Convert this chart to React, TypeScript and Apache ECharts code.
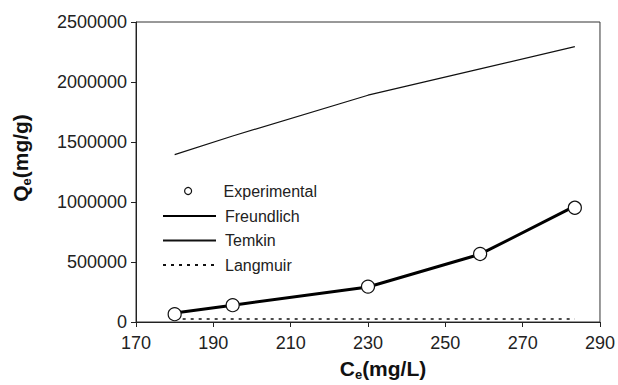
import React, { useEffect, useRef } from "react";
import * as echarts from "echarts";

const ceValues = [180, 195, 230, 259, 283.5];
const experimental = [65000, 140000, 295000, 567000, 952000];
const freundlich = [75000, 140000, 292000, 565000, 965000];
const temkin = [1395000, 1550000, 1890000, 2110000, 2295000];
const langmuir = [25000, 25000, 25000, 25000, 25000];
const xTicks = { min: 170, max: 290, interval: 20 };
const yTicks = { min: 0, max: 2500000, interval: 500000 };

const FONT = "'Liberation Sans', Arial, sans-serif";
const pairs = (ys: number[]) => ceValues.map((x, i) => [x, ys[i]]);

export default function App() {
  const ref = useRef<HTMLDivElement>(null);
  useEffect(() => {
    if (!ref.current) return;
    const chart = echarts.init(ref.current, null, { renderer: "svg" });
    const titleRich = {
      a: { fontSize: 21, fontWeight: "bold", fontFamily: FONT, fill: "#111", lineHeight: 26 },
      b: { fontSize: 13, fontWeight: "bold", fontFamily: FONT, fill: "#111", lineHeight: 8, verticalAlign: "bottom" },
    };
    chart.setOption({
      animation: false,
      backgroundColor: "#fff",
      textStyle: { fontFamily: FONT },
      grid: {
        left: 136, top: 22, right: 17, bottom: 63,
        show: true, borderColor: "#333", borderWidth: 1, backgroundColor: "transparent",
      },
      xAxis: {
        type: "value", min: xTicks.min, max: xTicks.max, interval: xTicks.interval,
        axisLine: { show: true, lineStyle: { color: "#222", width: 1 } },
        axisTick: { show: true, length: 5, lineStyle: { color: "#222" } },
        axisLabel: { color: "#222", fontSize: 18, margin: 12, fontFamily: FONT },
        splitLine: { show: false },
      },
      yAxis: {
        type: "value", min: yTicks.min, max: yTicks.max, interval: yTicks.interval,
        axisLine: { show: true, lineStyle: { color: "#222", width: 1 } },
        axisTick: { show: true, length: 5, lineStyle: { color: "#222" } },
        axisLabel: { color: "#222", fontSize: 18, margin: 9, fontFamily: FONT, formatter: (v: number) => String(v) },
        splitLine: { show: false },
      },
      legend: [
        {
          data: ["Experimental"], orient: "vertical", left: 179, top: 178,
          itemWidth: 53, itemHeight: 7, itemGap: 8,
          itemStyle: { color: "#fff", borderColor: "#111", borderWidth: 1.2, opacity: 1 },
          textStyle: { fontSize: 16, color: "#222", fontFamily: FONT, padding: [0, 0, 0, 4] },
          selectedMode: false,
        },
        {
          data: ["Freundlich", "Temkin", "Langmuir"], orient: "vertical", left: 157, top: 203,
          itemWidth: 53, itemHeight: 16, itemGap: 8.5,
          itemStyle: { opacity: 0 },
          textStyle: { fontSize: 16, color: "#222", fontFamily: FONT, lineHeight: 16, padding: [0, 0, 0, 4] },
          selectedMode: false,
        },
      ],
      series: [
        {
          name: "Experimental", type: "scatter", data: pairs(experimental),
          symbol: "circle", symbolSize: 13, z: 5,
          itemStyle: { color: "#fff", borderColor: "#111", borderWidth: 1.2, opacity: 1 },
        },
        {
          name: "Freundlich", type: "line", data: pairs(freundlich), symbol: "none",
          itemStyle: { color: "#000" },
          lineStyle: { color: "#000", width: 3 }, z: 3,
        },
        {
          name: "Temkin", type: "line", data: pairs(temkin), symbol: "none",
          itemStyle: { color: "#111" },
          lineStyle: { color: "#111", width: 1.2 }, z: 3,
        },
        {
          name: "Langmuir", type: "line", data: pairs(langmuir), symbol: "none",
          itemStyle: { color: "#111" },
          lineStyle: { color: "#111", width: 1.5, type: [3, 5] }, z: 2,
        },
      ],
      graphic: [
        {
          type: "text", x: 20, y: 158, rotation: Math.PI / 2,
          style: { text: "{a|Q}{b|e}{a|(mg/g)}", align: "center", verticalAlign: "middle", rich: titleRich },
        },
        {
          type: "text", x: 383, y: 368,
          style: { text: "{a|C}{b|e}{a|(mg/L)}", align: "center", verticalAlign: "middle", rich: titleRich },
        },
      ],
    });
    return () => chart.dispose();
  }, []);
  return <div ref={ref} style={{ width: 618, height: 385, position: "absolute", left: 0, top: 0 }} />;
}
